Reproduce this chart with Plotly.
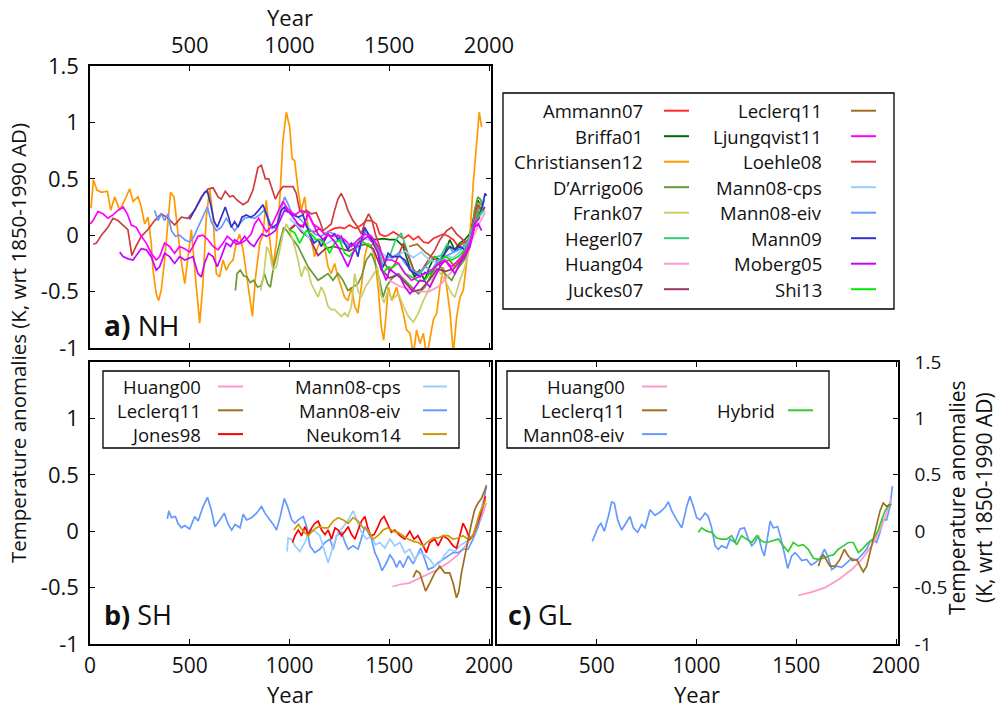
import plotly.graph_objects as go

W, H = 1008, 708
def px(x): return x / W
def py(y): return 1 - y / H

# ----------------------------- data: NH (panel a) -----------------------------
ammann07_yr = [1000, 1018, 1034, 1051, 1076, 1101, 1126, 1151, 1176, 1201, 1226, 1251, 1276, 1301, 1318, 1335, 1360, 1385, 1410, 1435, 1452, 1477, 1495, 1521, 1546, 1571, 1596, 1621, 1646, 1671, 1696, 1721, 1746, 1771, 1796, 1821, 1846, 1871, 1896, 1916, 1938, 1955, 1966]
ammann07_val = [0.05, 0.07, 0.10, 0.07, 0.10, 0.04, 0.03, 0.06, 0.01, 0.04, 0.06, 0.07, 0.06, 0.09, 0.07, 0.06, 0.09, 0.13, 0.13, 0.10, 0.01, -0.01, 0.00, 0.03, 0.00, -0.03, 0.00, -0.04, -0.01, -0.06, -0.07, -0.03, -0.01, 0.01, -0.01, -0.04, -0.10, -0.07, -0.04, 0.04, 0.19, 0.25, 0.22]

briffa01_yr = [1402, 1435, 1468, 1502, 1535, 1569, 1602, 1627, 1652, 1677, 1702, 1727, 1753, 1778, 1803, 1828, 1853, 1878, 1903, 1928, 1945, 1960]
briffa01_val = [-0.03, -0.04, -0.03, -0.04, -0.04, -0.10, -0.28, -0.37, -0.31, -0.40, -0.28, -0.19, -0.22, -0.16, -0.04, -0.13, -0.07, -0.04, 0.01, 0.19, 0.31, 0.25]

christiansen12_yr = [5, 17, 35, 57, 87, 104, 124, 149, 174, 199, 216, 241, 257, 274, 291, 307, 316, 332, 344, 357, 374, 391, 404, 421, 438, 454, 475, 488, 508, 533, 550, 566, 583, 600, 617, 633, 650, 667, 683, 700, 717, 733, 750, 767, 783, 800, 814, 830, 851, 867, 884, 901, 917, 934, 951, 967, 984, 1001, 1013, 1026, 1043, 1059, 1076, 1093, 1109, 1126, 1143, 1159, 1176, 1193, 1209, 1226, 1243, 1260, 1276, 1293, 1310, 1327, 1343, 1360, 1377, 1393, 1410, 1427, 1444, 1460, 1472, 1485, 1495, 1512, 1537, 1554, 1570, 1587, 1604, 1621, 1637, 1654, 1671, 1688, 1704, 1721, 1738, 1754, 1771, 1788, 1805, 1821, 1838, 1855, 1871, 1888, 1905, 1921, 1938, 1951, 1963]
christiansen12_val = [0.24, 0.49, 0.40, 0.38, 0.39, 0.22, 0.34, 0.22, 0.31, 0.41, 0.30, 0.34, 0.25, 0.10, 0.16, -0.07, -0.31, -0.52, -0.58, -0.49, -0.22, 0.16, 0.38, 0.34, 0.07, -0.19, -0.43, -0.22, 0.05, -0.46, -0.78, -0.43, 0.16, 0.41, 0.16, -0.34, -0.37, -0.22, -0.31, -0.25, -0.22, -0.07, 0.01, -0.13, -0.34, -0.58, -0.72, -0.37, -0.07, 0.01, 0.31, -0.04, -0.28, -0.07, 0.31, 0.84, 1.09, 0.96, 0.68, 0.66, 0.40, 0.22, 0.34, 0.07, -0.04, -0.19, -0.10, -0.04, -0.10, -0.28, -0.34, -0.25, -0.37, -0.46, -0.55, -0.58, -0.46, -0.63, -0.69, -0.46, -0.19, -0.07, -0.10, -0.19, -0.46, -0.81, -0.93, -0.69, -0.46, -0.58, -0.46, -0.58, -0.69, -0.84, -0.87, -1.06, -0.84, -0.96, -0.87, -1.08, -0.90, -0.75, -0.69, -0.46, -0.28, -0.46, -0.69, -1.05, -0.72, -0.55, -0.49, -0.22, 0.01, 0.46, 0.84, 1.09, 0.96]

darrigo06_yr = [729, 737, 753, 770, 787, 803, 820, 840, 857, 874, 890, 904, 920, 937, 954, 971, 987, 1007, 1018, 1043, 1068, 1093, 1118, 1143, 1168, 1193, 1218, 1243, 1268, 1293, 1318, 1343, 1360, 1385, 1410, 1430, 1452, 1469, 1485, 1510, 1546, 1579, 1612, 1646, 1679, 1713, 1746, 1779, 1813, 1838, 1863, 1888, 1910, 1927, 1944, 1960, 1972]
darrigo06_val = [-0.49, -0.34, -0.31, -0.36, -0.37, -0.42, -0.40, -0.46, -0.45, -0.34, -0.43, -0.46, -0.28, -0.16, -0.04, 0.07, 0.04, -0.02, -0.04, -0.10, -0.19, -0.28, -0.34, -0.40, -0.37, -0.34, -0.40, -0.34, -0.40, -0.49, -0.46, -0.43, -0.37, -0.22, -0.16, -0.25, -0.40, -0.55, -0.46, -0.39, -0.34, -0.40, -0.46, -0.52, -0.46, -0.34, -0.25, -0.34, -0.40, -0.31, -0.25, -0.19, -0.04, 0.22, 0.34, 0.31, 0.22]

frank07_yr = [856, 872, 886, 901, 917, 934, 951, 967, 984, 1001, 1026, 1043, 1059, 1076, 1093, 1109, 1126, 1143, 1159, 1176, 1193, 1209, 1226, 1243, 1260, 1276, 1293, 1310, 1327, 1343, 1360, 1380, 1402, 1424, 1441, 1457, 1474, 1494, 1514, 1546, 1571, 1596, 1621, 1646, 1671, 1696, 1721, 1746, 1779, 1813, 1829, 1854, 1879, 1905, 1927, 1946, 1963, 1977]
frank07_val = [-0.49, -0.34, -0.10, -0.16, -0.31, -0.28, -0.13, 0.01, 0.10, 0.04, -0.10, -0.22, -0.37, -0.28, -0.31, -0.43, -0.49, -0.55, -0.46, -0.52, -0.63, -0.66, -0.66, -0.69, -0.72, -0.69, -0.72, -0.63, -0.34, -0.49, -0.55, -0.46, -0.40, -0.34, -0.28, -0.52, -0.60, -0.49, -0.57, -0.52, -0.63, -0.72, -0.77, -0.69, -0.58, -0.49, -0.37, -0.31, -0.40, -0.52, -0.55, -0.40, -0.28, -0.10, 0.16, 0.28, 0.25, 0.22]

hegerl07_yr = [1500, 1530, 1560, 1590, 1620, 1650, 1680, 1720, 1760, 1790, 1820, 1860, 1900, 1930, 1960]
hegerl07_val = [-0.20, -0.05, 0.02, -0.15, -0.30, -0.35, -0.28, -0.20, -0.18, -0.08, -0.15, -0.12, -0.03, 0.15, 0.30]

huang04_yr = [1500, 1550, 1600, 1650, 1700, 1750, 1800, 1850, 1900, 1950, 1980]
huang04_val = [-0.40, -0.45, -0.48, -0.50, -0.50, -0.45, -0.35, -0.25, -0.10, 0.10, 0.20]

juckes07_yr = [1000, 1030, 1060, 1100, 1143, 1180, 1220, 1260, 1300, 1340, 1380, 1420, 1460, 1500, 1540, 1580, 1620, 1660, 1700, 1740, 1780, 1820, 1860, 1900, 1930, 1960, 1980]
juckes07_val = [0.05, 0.10, 0.03, -0.02, -0.18, -0.12, -0.10, -0.12, -0.14, -0.10, -0.08, -0.12, -0.30, -0.38, -0.35, -0.42, -0.50, -0.48, -0.40, -0.30, -0.32, -0.30, -0.22, -0.10, 0.10, 0.20, 0.25]

leclercq11_nh_yr = [1600, 1640, 1680, 1720, 1760, 1800, 1830, 1860, 1890, 1920, 1950, 1970]
leclercq11_nh_val = [-0.10, -0.08, -0.15, -0.20, -0.25, -0.22, -0.28, -0.20, -0.10, 0.05, 0.20, 0.22]

ljungqvist11_yr = [1, 15, 40, 65, 90, 115, 140, 166, 187, 207, 232, 257, 282, 307, 332, 349, 374, 399, 424, 449, 475, 500, 516, 541, 566, 591, 617, 642, 667, 688, 708, 733, 758, 783, 808, 825, 845, 862, 884, 906, 929, 951, 967, 992, 1026, 1059, 1093, 1118, 1143, 1176, 1209, 1243, 1276, 1310, 1343, 1377, 1410, 1444, 1477, 1512, 1546, 1579, 1612, 1646, 1679, 1713, 1746, 1779, 1813, 1846, 1879, 1905, 1930, 1955]
ljungqvist11_val = [0.10, 0.13, 0.21, 0.19, 0.15, 0.18, 0.22, 0.25, 0.19, 0.09, 0.07, -0.01, -0.07, -0.16, -0.22, -0.19, -0.07, -0.10, -0.16, -0.10, -0.12, -0.15, -0.10, -0.01, 0.00, -0.04, -0.10, -0.13, -0.07, -0.01, -0.04, -0.08, -0.07, -0.04, 0.01, 0.10, 0.15, 0.10, 0.03, 0.07, 0.16, 0.25, 0.30, 0.23, 0.18, 0.22, 0.20, 0.10, 0.07, 0.01, -0.01, 0.00, -0.04, -0.10, -0.04, 0.01, -0.01, -0.10, -0.22, -0.22, -0.25, -0.34, -0.40, -0.37, -0.34, -0.31, -0.25, -0.22, -0.28, -0.22, -0.16, -0.07, 0.10, 0.16]

loehle08_yr = [16, 32, 57, 90, 115, 140, 165, 190, 210, 230, 257, 291, 324, 357, 391, 424, 458, 491, 524, 558, 591, 617, 642, 658, 678, 700, 717, 738, 767, 792, 817, 842, 859, 879, 896, 912, 929, 946, 967, 992, 1018, 1034, 1051, 1068, 1084, 1109, 1134, 1151, 1168, 1189, 1209, 1226, 1243, 1259, 1276, 1293, 1318, 1343, 1360, 1380, 1397, 1414, 1430, 1452, 1477, 1502, 1530, 1571, 1596, 1629, 1663, 1696, 1729, 1754, 1788, 1813, 1838, 1863, 1888, 1910, 1927, 1944, 1955]
loehle08_val = [-0.08, -0.07, 0.00, 0.07, 0.15, 0.13, 0.09, 0.05, -0.18, -0.10, -0.01, 0.05, 0.13, 0.19, 0.15, 0.09, 0.16, 0.15, 0.22, 0.34, 0.41, 0.42, 0.34, 0.32, 0.39, 0.34, 0.35, 0.31, 0.27, 0.30, 0.40, 0.60, 0.62, 0.50, 0.50, 0.41, 0.32, 0.38, 0.43, 0.43, 0.43, 0.37, 0.22, 0.19, 0.22, 0.19, 0.20, 0.13, 0.04, 0.07, 0.10, 0.22, 0.32, 0.37, 0.31, 0.22, 0.13, 0.07, 0.01, 0.13, 0.19, 0.13, 0.01, -0.10, -0.25, -0.32, -0.25, -0.07, -0.19, -0.34, -0.31, -0.22, -0.13, -0.04, 0.04, 0.07, 0.01, -0.03, -0.07, -0.01, 0.16, 0.27, 0.24]

mann08cps_nh_yr = [1000, 1030, 1060, 1100, 1140, 1180, 1220, 1260, 1300, 1340, 1380, 1420, 1460, 1500, 1540, 1580, 1620, 1660, 1700, 1740, 1780, 1820, 1860, 1900, 1930, 1960, 1980]
mann08cps_nh_val = [0.15, 0.10, 0.05, -0.02, -0.05, -0.08, -0.04, -0.06, -0.10, -0.08, -0.03, -0.06, -0.15, -0.22, -0.18, -0.14, -0.20, -0.15, -0.22, -0.24, -0.18, -0.20, -0.14, -0.05, 0.10, 0.18, 0.22]

mann08eiv_nh_yr = [324, 341, 357, 374, 391, 408, 428, 449, 475, 500, 516, 541, 566, 588, 608, 633, 658, 683, 705, 725, 750, 775, 800, 825, 850, 872, 892, 912, 934, 959, 975, 992, 1013, 1026, 1059, 1093, 1126, 1159, 1193, 1226, 1259, 1293, 1327, 1352, 1380, 1410, 1444, 1469, 1494, 1514, 1546, 1579, 1612, 1646, 1679, 1713, 1746, 1779, 1813, 1846, 1879, 1905, 1930, 1955, 1977]
mann08eiv_nh_val = [0.22, 0.13, 0.19, 0.13, 0.19, 0.04, -0.01, 0.00, -0.04, -0.06, -0.03, 0.07, 0.16, 0.25, 0.12, 0.04, 0.07, 0.15, 0.09, 0.04, 0.10, 0.15, 0.16, 0.15, 0.18, 0.22, 0.16, 0.06, 0.07, 0.25, 0.34, 0.28, 0.19, 0.19, 0.13, 0.07, 0.01, -0.01, 0.03, 0.01, -0.04, -0.10, -0.07, -0.13, 0.04, -0.01, -0.10, -0.28, -0.19, -0.20, -0.16, -0.25, -0.31, -0.34, -0.28, -0.31, -0.22, -0.19, -0.16, -0.13, -0.10, -0.04, 0.13, 0.19, 0.31]

mann09_yr = [499, 524, 549, 574, 588, 604, 621, 638, 658, 678, 695, 708, 725, 742, 762, 783, 805, 825, 845, 867, 884, 901, 917, 939, 959, 975, 992, 1018, 1043, 1068, 1084, 1101, 1123, 1143, 1159, 1176, 1193, 1209, 1226, 1243, 1259, 1276, 1293, 1310, 1327, 1343, 1360, 1377, 1393, 1410, 1427, 1444, 1460, 1477, 1494, 1514, 1529, 1554, 1579, 1604, 1629, 1654, 1679, 1704, 1729, 1754, 1779, 1804, 1829, 1854, 1879, 1905, 1927, 1946, 1966, 1980, 1988]
mann09_val = [0.14, 0.22, 0.31, 0.38, 0.39, 0.28, 0.13, 0.07, 0.16, 0.25, 0.16, 0.07, 0.12, 0.07, 0.16, 0.18, 0.16, 0.18, 0.22, 0.27, 0.19, 0.09, 0.07, 0.10, 0.22, 0.25, 0.21, 0.18, 0.16, 0.18, 0.09, 0.01, -0.07, -0.04, -0.10, -0.04, 0.01, -0.01, 0.01, -0.04, -0.01, -0.07, -0.13, -0.07, -0.10, -0.19, -0.04, 0.07, 0.01, -0.04, -0.07, -0.16, -0.31, -0.25, -0.16, -0.19, -0.19, -0.19, -0.22, -0.31, -0.34, -0.37, -0.33, -0.34, -0.28, -0.25, -0.16, -0.10, -0.13, -0.10, -0.13, -0.07, 0.10, 0.16, 0.25, 0.37, 0.35]

moberg05_yr = [149, 166, 191, 216, 232, 257, 282, 307, 332, 349, 374, 399, 424, 449, 475, 500, 516, 541, 558, 574, 594, 617, 638, 658, 683, 705, 725, 750, 775, 800, 822, 842, 862, 884, 906, 929, 951, 975, 1001, 1018, 1043, 1068, 1093, 1118, 1143, 1168, 1193, 1218, 1243, 1268, 1293, 1318, 1343, 1368, 1393, 1418, 1444, 1464, 1485, 1504, 1529, 1554, 1579, 1604, 1629, 1654, 1679, 1704, 1729, 1754, 1779, 1804, 1829, 1854, 1879, 1905, 1927, 1946, 1963]
moberg05_val = [-0.15, -0.19, -0.21, -0.22, -0.18, -0.12, -0.13, -0.19, -0.31, -0.28, -0.16, -0.19, -0.25, -0.19, -0.22, -0.20, -0.19, -0.34, -0.37, -0.25, -0.16, -0.19, -0.28, -0.19, -0.07, -0.10, -0.04, -0.07, -0.01, -0.07, -0.10, -0.04, 0.01, -0.01, 0.01, 0.04, 0.13, 0.22, 0.20, 0.16, 0.10, 0.07, 0.19, 0.10, 0.01, -0.04, 0.01, -0.04, -0.10, -0.19, -0.28, -0.16, -0.07, -0.04, -0.01, -0.07, -0.16, -0.31, -0.40, -0.30, -0.34, -0.37, -0.46, -0.52, -0.46, -0.40, -0.41, -0.46, -0.37, -0.28, -0.22, -0.28, -0.34, -0.25, -0.19, -0.10, 0.07, 0.10, 0.04]

shi13_yr = [1000, 1026, 1051, 1068, 1084, 1109, 1134, 1159, 1184, 1201, 1226, 1251, 1276, 1301, 1327, 1352, 1377, 1402, 1427, 1452, 1469, 1494, 1512, 1546, 1579, 1612, 1646, 1679, 1713, 1746, 1779, 1813, 1846, 1879, 1905, 1930, 1955, 1972]
shi13_val = [0.05, 0.02, -0.07, -0.01, 0.04, 0.01, -0.04, -0.04, -0.10, -0.16, -0.07, -0.04, -0.16, -0.19, -0.13, -0.04, -0.07, -0.10, -0.07, -0.19, -0.34, -0.28, -0.29, -0.25, -0.34, -0.37, -0.41, -0.40, -0.31, -0.25, -0.19, -0.22, -0.19, -0.13, -0.07, 0.10, 0.19, 0.22]

# ----------------------------- data: SH (panel b) -----------------------------
huang00_sh_yr = [1515, 1560, 1600, 1660, 1730, 1795, 1845, 1895, 1937, 1970, 1987]
huang00_sh_val = [-0.49, -0.47, -0.46, -0.41, -0.35, -0.28, -0.21, -0.10, 0.01, 0.16, 0.25]

leclercq11_sh_yr = [1620, 1636, 1653, 1670, 1682, 1703, 1728, 1753, 1778, 1803, 1820, 1837, 1848, 1862, 1878, 1895, 1912, 1928, 1945, 1962, 1978, 1987]
leclercq11_sh_val = [-0.41, -0.35, -0.37, -0.46, -0.53, -0.46, -0.37, -0.31, -0.37, -0.37, -0.46, -0.59, -0.54, -0.37, -0.22, -0.07, 0.07, 0.19, 0.25, 0.29, 0.37, 0.40]

jones98_yr = [1015, 1027, 1044, 1061, 1077, 1094, 1111, 1127, 1144, 1161, 1178, 1194, 1211, 1228, 1244, 1261, 1278, 1294, 1311, 1328, 1344, 1361, 1378, 1391, 1408, 1424, 1441, 1458, 1474, 1491, 1511, 1528, 1553, 1578, 1603, 1624, 1644, 1670, 1686, 1703, 1728, 1745, 1770, 1795, 1820, 1837, 1853, 1870, 1887, 1903, 1920, 1937, 1953, 1970, 1982]
jones98_val = [-0.10, -0.04, 0.01, -0.04, 0.04, -0.03, 0.03, 0.07, 0.09, 0.01, -0.03, 0.01, -0.07, 0.03, 0.01, -0.04, 0.00, 0.04, -0.03, -0.07, 0.01, 0.09, 0.13, 0.04, -0.04, -0.03, 0.03, 0.10, 0.13, 0.06, -0.01, 0.01, -0.04, -0.07, 0.00, -0.07, -0.04, -0.13, -0.19, -0.10, -0.07, -0.13, -0.04, -0.07, -0.13, -0.15, -0.04, 0.07, 0.01, -0.07, -0.04, 0.04, 0.13, 0.22, 0.31]

mann08cps_sh_yr = [988, 993, 1010, 1027, 1052, 1077, 1102, 1127, 1152, 1169, 1194, 1219, 1244, 1269, 1294, 1319, 1336, 1361, 1386, 1411, 1431, 1453, 1478, 1503, 1528, 1553, 1578, 1603, 1628, 1653, 1678, 1703, 1728, 1753, 1778, 1803, 1828, 1853, 1878, 1903, 1928, 1953, 1978]
mann08cps_sh_val = [-0.18, -0.06, -0.07, -0.13, -0.18, -0.10, 0.01, 0.00, -0.04, -0.13, -0.28, -0.13, -0.01, 0.04, 0.10, 0.18, 0.10, -0.01, -0.07, -0.04, -0.12, -0.10, -0.15, -0.07, -0.13, -0.10, -0.19, -0.16, -0.25, -0.19, -0.21, -0.25, -0.31, -0.28, -0.21, -0.16, -0.18, -0.13, -0.10, -0.07, -0.01, 0.16, 0.31]

mann08eiv_sh_yr = [388, 395, 408, 428, 441, 458, 475, 500, 525, 542, 567, 589, 609, 626, 651, 673, 693, 710, 727, 752, 768, 785, 810, 835, 860, 877, 902, 919, 935, 952, 974, 990, 1011, 1027, 1044, 1069, 1086, 1102, 1127, 1152, 1178, 1203, 1219, 1236, 1261, 1278, 1294, 1319, 1344, 1361, 1378, 1394, 1411, 1428, 1444, 1464, 1486, 1503, 1520, 1536, 1553, 1570, 1595, 1620, 1641, 1658, 1678, 1695, 1720, 1745, 1770, 1795, 1820, 1845, 1870, 1895, 1920, 1945, 1970, 1987]
mann08eiv_sh_val = [0.11, 0.18, 0.12, 0.13, 0.07, 0.03, 0.05, 0.02, 0.13, 0.09, 0.22, 0.30, 0.18, 0.04, 0.10, 0.16, 0.06, 0.01, 0.06, 0.03, 0.15, 0.10, 0.12, 0.16, 0.22, 0.16, 0.10, 0.06, 0.01, 0.12, 0.29, 0.22, 0.10, 0.07, 0.10, 0.13, 0.04, -0.13, -0.19, -0.16, -0.10, -0.07, -0.16, -0.04, -0.01, -0.10, -0.16, -0.13, -0.16, -0.07, 0.04, -0.01, -0.07, -0.19, -0.25, -0.35, -0.28, -0.21, -0.25, -0.32, -0.26, -0.32, -0.22, -0.29, -0.21, -0.15, -0.25, -0.34, -0.32, -0.28, -0.25, -0.22, -0.19, -0.19, -0.16, -0.16, -0.07, 0.04, 0.22, 0.41]

neukom14_yr = [1022, 1044, 1069, 1094, 1119, 1144, 1169, 1194, 1219, 1244, 1269, 1294, 1319, 1344, 1369, 1394, 1419, 1444, 1469, 1494, 1519, 1544, 1569, 1594, 1620, 1645, 1670, 1695, 1720, 1745, 1770, 1795, 1820, 1845, 1870, 1895, 1920, 1937, 1953, 1970, 1983]
neukom14_val = [0.01, 0.06, 0.00, -0.04, 0.01, 0.04, 0.03, 0.03, 0.09, 0.12, 0.10, 0.07, 0.12, 0.09, 0.03, 0.01, -0.07, -0.04, 0.01, 0.03, 0.00, -0.01, -0.04, -0.07, -0.09, -0.10, -0.13, -0.09, -0.06, -0.06, -0.04, -0.04, -0.07, -0.06, -0.04, -0.07, -0.04, 0.07, 0.16, 0.22, 0.28]

# ----------------------------- data: GL (panel c) -----------------------------
huang00_gl_yr = [1510, 1577, 1644, 1711, 1778, 1828, 1878, 1920, 1953, 1975]
huang00_gl_val = [-0.57, -0.54, -0.50, -0.43, -0.34, -0.25, -0.13, 0.01, 0.16, 0.29]

leclercq11_gl_yr = [1611, 1624, 1636, 1653, 1669, 1694, 1719, 1741, 1761, 1781, 1803, 1820, 1836, 1853, 1870, 1886, 1903, 1920, 1936, 1953, 1970]
leclercq11_gl_val = [-0.31, -0.24, -0.21, -0.26, -0.31, -0.31, -0.25, -0.16, -0.22, -0.26, -0.25, -0.31, -0.36, -0.31, -0.19, -0.07, 0.04, 0.18, 0.25, 0.22, 0.24]

mann08eiv_gl_yr = [478, 491, 508, 521, 538, 558, 575, 588, 605, 625, 645, 667, 683, 705, 725, 742, 767, 792, 817, 842, 859, 876, 901, 926, 951, 967, 984, 1001, 1018, 1043, 1059, 1076, 1093, 1109, 1126, 1151, 1168, 1193, 1218, 1240, 1260, 1277, 1293, 1310, 1327, 1340, 1352, 1369, 1385, 1407, 1424, 1440, 1457, 1477, 1494, 1510, 1527, 1552, 1574, 1594, 1619, 1641, 1658, 1678, 1703, 1728, 1753, 1778, 1803, 1828, 1853, 1870, 1886, 1903, 1920, 1936, 1953, 1970, 1982]
mann08eiv_gl_val = [-0.09, -0.03, 0.04, 0.07, 0.00, 0.13, 0.26, 0.25, 0.10, 0.01, 0.07, 0.13, 0.03, -0.01, 0.06, 0.03, 0.19, 0.14, 0.17, 0.21, 0.26, 0.18, 0.10, 0.03, 0.22, 0.31, 0.22, 0.12, 0.10, 0.16, 0.13, 0.03, -0.13, -0.16, -0.13, -0.15, -0.07, -0.10, 0.02, 0.03, -0.07, -0.13, -0.10, -0.04, -0.16, -0.22, -0.10, 0.09, 0.03, 0.04, -0.07, -0.19, -0.33, -0.22, -0.19, -0.22, -0.26, -0.25, -0.30, -0.28, -0.24, -0.16, -0.22, -0.34, -0.31, -0.32, -0.28, -0.24, -0.26, -0.21, -0.16, -0.09, -0.07, -0.10, -0.01, 0.10, 0.10, 0.22, 0.40]

hybrid_yr = [1009, 1026, 1051, 1076, 1101, 1126, 1151, 1176, 1201, 1226, 1251, 1277, 1302, 1327, 1352, 1377, 1410, 1435, 1460, 1485, 1510, 1535, 1560, 1586, 1611, 1636, 1661, 1686, 1711, 1736, 1761, 1786, 1811, 1836, 1861, 1886, 1911, 1928, 1945, 1961, 1978]
hybrid_val = [-0.01, 0.03, 0.00, -0.01, -0.06, -0.07, -0.07, -0.04, -0.12, -0.04, -0.07, -0.10, -0.04, -0.09, -0.10, -0.09, -0.07, -0.13, -0.18, -0.10, -0.13, -0.12, -0.16, -0.24, -0.25, -0.24, -0.22, -0.21, -0.16, -0.13, -0.10, -0.10, -0.19, -0.15, -0.10, -0.07, 0.01, 0.10, 0.18, 0.22, 0.24]

# ----------------------------- axes / ticks -----------------------------
year_ticks_top = [500, 1000, 1500, 2000]
year_ticks_b = [0, 500, 1000, 1500, 2000]
year_ticks_c = [500, 1000, 1500, 2000]
temp_ticks = [-1, -0.5, 0, 0.5, 1, 1.5]
temp_labels = ["-1", "-0.5", "0", "0.5", "1", "1.5"]

# ----------------------------- colours -----------------------------
C = {
    "Ammann07": "#ff2a2a", "Briffa01": "#006b00", "Christiansen12": "#ff9900",
    "D\u2019Arrigo06": "#669933", "Frank07": "#cccc66", "Hegerl07": "#33cc77",
    "Huang04": "#ff99cc", "Juckes07": "#993366", "Leclerq11": "#a06d1e",
    "Ljungqvist11": "#ff00ff", "Loehle08": "#cc3f3f", "Mann08-cps": "#99ccff",
    "Mann08-eiv": "#6699ff", "Mann09": "#3333cc", "Moberg05": "#cc00ff",
    "Shi13": "#00ee00", "Jones98": "#ff0000", "Neukom14": "#cc9900",
    "Huang00": "#ff99cc", "Hybrid": "#33cc33",
}

nh_series = [
    ("Ammann07", ammann07_yr, ammann07_val),
    ("Briffa01", briffa01_yr, briffa01_val),
    ("Christiansen12", christiansen12_yr, christiansen12_val),
    ("D\u2019Arrigo06", darrigo06_yr, darrigo06_val),
    ("Frank07", frank07_yr, frank07_val),
    ("Hegerl07", hegerl07_yr, hegerl07_val),
    ("Huang04", huang04_yr, huang04_val),
    ("Juckes07", juckes07_yr, juckes07_val),
    ("Leclerq11", leclercq11_nh_yr, leclercq11_nh_val),
    ("Loehle08", loehle08_yr, loehle08_val),
    ("Mann08-cps", mann08cps_nh_yr, mann08cps_nh_val),
    ("Mann08-eiv", mann08eiv_nh_yr, mann08eiv_nh_val),
    ("Mann09", mann09_yr, mann09_val),
    ("Shi13", shi13_yr, shi13_val),
    ("Moberg05", moberg05_yr, moberg05_val),
    ("Ljungqvist11", ljungqvist11_yr, ljungqvist11_val),
]
sh_series = [
    ("Huang00", huang00_sh_yr, huang00_sh_val),
    ("Mann08-eiv", mann08eiv_sh_yr, mann08eiv_sh_val),
    ("Mann08-cps", mann08cps_sh_yr, mann08cps_sh_val),
    ("Jones98", jones98_yr, jones98_val),
    ("Neukom14", neukom14_yr, neukom14_val),
    ("Leclerq11", leclercq11_sh_yr, leclercq11_sh_val),
]
gl_series = [
    ("Mann08-eiv", mann08eiv_gl_yr, mann08eiv_gl_val),
    ("Huang00", huang00_gl_yr, huang00_gl_val),
    ("Hybrid", hybrid_yr, hybrid_val),
    ("Leclerq11", leclercq11_gl_yr, leclercq11_gl_val),
]

FONT = "Open Sans, Noto Sans, DejaVu Sans, sans-serif"

fig = go.Figure()
for axn, series in (("", nh_series), ("2", sh_series), ("3", gl_series)):
    for name, xs, ys in series:
        fig.add_trace(go.Scatter(
            x=xs, y=ys, mode="lines", name=name,
            line=dict(color=C[name], width=1.7),
            xaxis="x" + axn, yaxis="y" + axn,
            showlegend=False, hoverinfo="skip"))

axis_common = dict(showline=True, linecolor="black", linewidth=1.5, mirror="allticks",
                   ticks="inside", ticklen=5, tickwidth=1.2, tickcolor="black",
                   showgrid=False, zeroline=False, automargin=False)

fig.update_layout(
    template="none",
    width=W, height=H, autosize=False,
    margin=dict(l=0, r=0, t=0, b=0, pad=0),
    paper_bgcolor="white", plot_bgcolor="white",
    showlegend=False,
    xaxis=dict(domain=[px(90), px(491)], range=[0, 2010], anchor="y", side="top",
               tickvals=year_ticks_top, ticktext=[str(v) for v in year_ticks_top],
               tickfont=dict(family=FONT, size=22, color="#111"), ticklabelstandoff=2,
               **axis_common),
    yaxis=dict(domain=[py(348), py(66)], range=[-1, 1.5], anchor="x",
               tickvals=temp_ticks, ticktext=temp_labels,
               tickfont=dict(family=FONT, size=22, color="#111"), ticklabelstandoff=5,
               **axis_common),
    xaxis2=dict(domain=[px(90), px(491)], range=[0, 2010], anchor="y2", side="bottom",
                tickvals=year_ticks_b, ticktext=[str(v) for v in year_ticks_b],
                tickfont=dict(family=FONT, size=21, color="#111"), ticklabelstandoff=2,
                **axis_common),
    yaxis2=dict(domain=[py(644), py(362)], range=[-1, 1.5], anchor="x2",
                tickvals=temp_ticks[:-1], ticktext=temp_labels[:-1],
                tickfont=dict(family=FONT, size=22, color="#111"), ticklabelstandoff=5,
                **axis_common),
    xaxis3=dict(domain=[px(497), px(898)], range=[0, 2010], anchor="y3", side="bottom",
                tickvals=year_ticks_c, ticktext=[str(v) for v in year_ticks_c],
                tickfont=dict(family=FONT, size=21, color="#111"), ticklabelstandoff=2,
                **axis_common),
    yaxis3=dict(domain=[py(644), py(362)], range=[-1, 1.5], anchor="x3", side="right",
                tickvals=temp_ticks, ticktext=temp_labels,
                tickfont=dict(family=FONT, size=19, color="#111"), ticklabelstandoff=11,
                **axis_common),
)

ann = []
shapes = []

def text(x, y, s, size, xanchor="center", angle=0):
    ann.append(dict(x=px(x), y=py(y), xref="paper", yref="paper", text=s, showarrow=False,
                    xanchor=xanchor, yanchor="middle", textangle=angle,
                    font=dict(family=FONT, size=size, color="#111")))

# axis titles
text(290, 17, "Year", 22)
text(290, 694, "Year", 22)
text(697, 694, "Year", 22)
text(18, 343, "Temperature anomalies (K, wrt 1850-1990 AD)", 20.5, angle=-90)
text(970, 498, "Temperature anomalies<br>(K, wrt 1850-1990 AD)", 21, angle=-90)

# panel labels
text(102, 325, "<b>a)</b> NH", 28, xanchor="left")
text(102, 614, "<b>b)</b> SH", 27, xanchor="left")
text(506, 614, "<b>c)</b> GL", 27, xanchor="left")

# custom legends (label then line sample, as in the original)
def legend_box(x0, y0, x1, y1):
    shapes.append(dict(type="rect", xref="paper", yref="paper",
                       x0=px(x0), x1=px(x1), y0=py(y1), y1=py(y0),
                       line=dict(color="black", width=1.3), fillcolor="white", layer="above"))

def legend_entry(name, tx, lx0, lx1, y):
    text(tx, y, name, 18.5, xanchor="right")
    shapes.append(dict(type="line", xref="paper", yref="paper",
                       x0=px(lx0), x1=px(lx1), y0=py(y), y1=py(y),
                       line=dict(color=C[name], width=2), layer="above"))

nh_legend_col1 = ["Ammann07", "Briffa01", "Christiansen12", "D\u2019Arrigo06",
                  "Frank07", "Hegerl07", "Huang04", "Juckes07"]
nh_legend_col2 = ["Leclerq11", "Ljungqvist11", "Loehle08", "Mann08-cps",
                  "Mann08-eiv", "Mann09", "Moberg05", "Shi13"]
legend_box(503, 93, 894, 309)
for i, n in enumerate(nh_legend_col1):
    legend_entry(n, 645, 664, 689, 110.7 + i * 25.5)
for i, n in enumerate(nh_legend_col2):
    legend_entry(n, 824, 851, 876, 110.7 + i * 25.5)

sh_legend_col1 = ["Huang00", "Leclerq11", "Jones98"]
sh_legend_col2 = ["Mann08-cps", "Mann08-eiv", "Neukom14"]
legend_box(103, 371, 459, 448)
for i, n in enumerate(sh_legend_col1):
    legend_entry(n, 203, 218, 243, 386.5 + i * 23.8)
for i, n in enumerate(sh_legend_col2):
    legend_entry(n, 403, 423, 447, 386.5 + i * 23.8)

gl_legend_col1 = ["Huang00", "Leclerq11", "Mann08-eiv"]
legend_box(507, 371, 829, 448)
for i, n in enumerate(gl_legend_col1):
    legend_entry(n, 627, 642, 667, 386.5 + i * 23.8)
legend_entry("Hybrid", 777, 788, 813, 386.5 + 23.8)

fig.update_layout(annotations=ann, shapes=shapes)
fig.write_html("out.html")
